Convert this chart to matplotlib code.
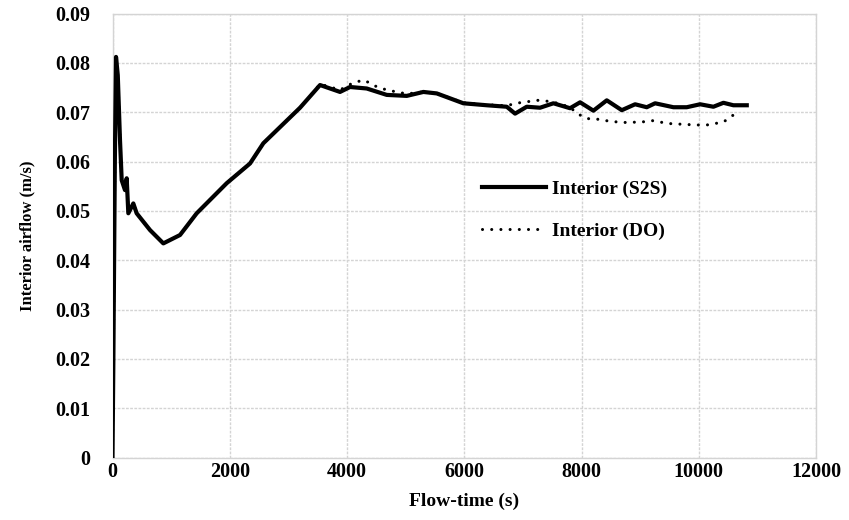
import matplotlib.pyplot as plt

# Interior airflow vs flow-time, two radiation models
s2s_t = [0, 15, 40, 60, 90, 128, 157, 213, 242, 270, 355, 412, 640, 867, 1152,
         1436, 1948, 2346, 2573, 3199, 3540, 3881, 4052, 4336, 4678, 5019, 5303,
         5531, 5985, 6384, 6725, 6867, 7066, 7293, 7521, 7805, 7976, 8203, 8431,
         8687, 8914, 9113, 9255, 9568, 9795, 10023, 10250, 10421, 10591, 10819]
s2s_v = [0.0, 0.02, 0.06, 0.0812, 0.0775, 0.0643, 0.0562, 0.0542, 0.0566, 0.0495,
         0.0515, 0.0495, 0.0461, 0.0434, 0.0451, 0.0495, 0.0556, 0.0596, 0.0637,
         0.0709, 0.0755, 0.0741, 0.0751, 0.0748, 0.0735, 0.0733, 0.0741, 0.0738,
         0.0718, 0.0714, 0.0711, 0.0697, 0.0711, 0.0709, 0.0718, 0.0708, 0.0720,
         0.0703, 0.0724, 0.0704, 0.0716, 0.0710, 0.0718, 0.0710, 0.0710, 0.0716,
         0.0711, 0.0719, 0.0714, 0.0714]

do_t = [0, 15, 40, 60, 90, 128, 157, 213, 242, 270, 355, 412, 640, 867, 1152,
        1436, 1948, 2346, 2573, 3199, 3540, 3881, 4110, 4290, 4500, 4678, 5019,
        5303, 5531, 5985, 6384, 6725, 6880, 7066, 7250, 7379, 7600, 7800, 7947,
        8089, 8260, 8402, 8687, 9028, 9198, 9482, 9795, 9966, 10136, 10421,
        10563, 10676]
do_v = [0.0, 0.02, 0.06, 0.0812, 0.0775, 0.0643, 0.0562, 0.0542, 0.0566, 0.0495,
        0.0515, 0.0495, 0.0461, 0.0434, 0.0451, 0.0495, 0.0556, 0.0596, 0.0637,
        0.0709, 0.0757, 0.0745, 0.0760, 0.0765, 0.0752, 0.0745, 0.0737, 0.0741,
        0.0738, 0.0719, 0.0715, 0.0713, 0.0718, 0.0721, 0.0724, 0.0723, 0.0718,
        0.0710, 0.0696, 0.0687, 0.0686, 0.0683, 0.0679, 0.0680, 0.0683, 0.0677,
        0.0675, 0.0674, 0.0674, 0.0680, 0.0692, 0.0701]

xticks = [0, 2000, 4000, 6000, 8000, 10000, 12000]
yticks = [0, 0.01, 0.02, 0.03, 0.04, 0.05, 0.06, 0.07, 0.08, 0.09]
ytick_labels = ['0', '0.01', '0.02', '0.03', '0.04', '0.05', '0.06', '0.07', '0.08', '0.09']

plt.rcParams['font.family'] = 'Liberation Serif'
plt.rcParams['font.weight'] = 'bold'

fig = plt.figure(figsize=(8.49, 5.2), dpi=100)
ax = fig.add_axes([112.5 / 849, 62.5 / 520, 703.5 / 849, 444 / 520])

ax.plot(do_t, do_v, color='black', lw=2.2, linestyle=(0, (0.01, 3.0)),
        dash_capstyle='round', label='Interior (DO)', zorder=2)
ax.plot(s2s_t, s2s_v, color='black', lw=3.0, label='Interior (S2S)', zorder=3,
        solid_joinstyle='round')

ax.set_xlim(0, 12000)
ax.set_ylim(0, 0.09)
ax.set_xticks(xticks)
ax.set_xticklabels([str(t) for t in xticks])
ax.set_yticks(yticks)
ax.set_yticklabels(ytick_labels)
ax.tick_params(length=0, labelsize=14.5)
ax.tick_params(axis='y', pad=16)
ax.tick_params(axis='x', pad=3)

ax.grid(True, color='#d4d4d4', linestyle=(0, (2, 1)), lw=1)
ax.set_axisbelow(True)
for sp in ax.spines.values():
    sp.set_color('#d4d4d4')
    sp.set_linewidth(1)

ax.set_xlabel('Flow-time (s)', fontsize=14, fontweight='bold', labelpad=8)
ax.set_ylabel('Interior airflow (m/s)', fontsize=12, fontweight='bold', labelpad=14)

handles, labels = ax.get_legend_handles_labels()
leg = ax.legend(handles[::-1], labels[::-1], loc='center left',
                bbox_to_anchor=(0.525, 0.557), frameon=False, borderpad=0,
                borderaxespad=0, handlelength=3.3, handletextpad=0.3,
                labelspacing=1.25, prop={'size': 14, 'weight': 'bold'})

fig.savefig('out.png', dpi=100)
